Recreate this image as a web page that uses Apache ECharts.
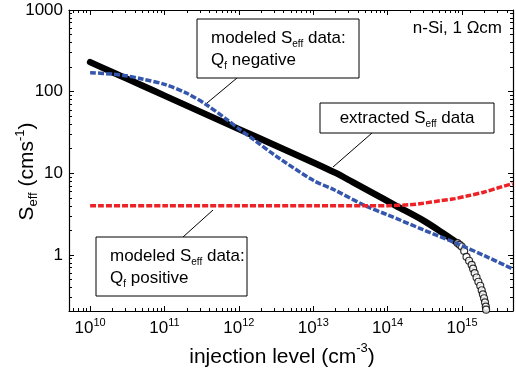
<!DOCTYPE html>
<html>
<head>
<meta charset="utf-8">
<script src="https://cdn.jsdelivr.net/npm/echarts@6/dist/echarts.min.js"></script>
<style>
  html, body { margin: 0; padding: 0; background: #fff; }
  #chart { width: 516px; height: 373px; }
</style>
</head>
<body>
<div id="chart"></div>
<script>
// Effective surface recombination velocity S_eff versus injection level, n-Si 1 Ohm cm.

// Extracted S_eff data (dense part drawn as a thick line)
const extractedN = [1e10, 2e10, 5e10, 1e11, 3e11, 1e12, 3e12, 1e13, 2e13, 3.4e13, 6e13, 1.3e14, 3e14, 5.5e14, 8.7e14];
const extractedS = [230, 173, 119, 89.5, 57, 34.8, 22.2, 13.6, 10.1, 7.8, 5.9, 4.0, 2.65, 1.86, 1.40];

// Extracted S_eff data, sparse tail drawn as open circles
const extractedTailN = [8.7e14, 9.3e14, 9.9e14, 1.07e15, 1.15e15, 1.245e15, 1.35e15, 1.41e15, 1.48e15, 1.57e15, 1.66e15, 1.76e15, 1.84e15, 1.91e15, 1.98e15, 2.04e15, 2.09e15, 2.11e15];
const extractedTailS = [1.40, 1.33, 1.27, 1.12, 0.95, 0.85, 0.755, 0.68, 0.60, 0.53, 0.47, 0.42, 0.37, 0.33, 0.295, 0.263, 0.233, 0.214];

// Modeled S_eff, negative fixed charge
const negativeN = [1e10, 2e10, 3e10, 5e10, 1e11, 2e11, 3.7e11, 7e11, 1e12, 1.6e12, 3e12, 1e13, 1.9e13, 5e13, 1e14, 3e14, 8.3e14, 2e15, 4.8e15];
const negativeS = [171, 164, 157, 143, 123, 95.5, 68.7, 45, 35, 25.7, 16.8, 8.2, 6.3, 4.0, 3.1, 2.04, 1.40, 0.98, 0.675];

// Modeled S_eff, positive fixed charge
const positiveN = [1e10, 1e11, 1e12, 1e13, 5e13, 1e14, 2e14, 3e14, 5e14, 8e14, 1.2e15, 2e15, 3e15, 4.8e15];
const positiveS = [4.0, 4.0, 4.0, 4.0, 4.0, 4.02, 4.12, 4.3, 4.6, 4.9, 5.3, 5.9, 6.6, 7.5];

// Axis ranges and tick labels
const xRange = [5.2e9, 4.85e15];
const yRange = [0.206, 1000];
const xTickExponents = [10, 11, 12, 13, 14, 15];
const yTickValues = [1, 10, 100, 1000];

const FONT = '"Liberation Sans", Arial, Helvetica, sans-serif';
const lg = Math.log10;
const toPairs = (xs, ys) => xs.map((x, i) => [lg(x), lg(ys[i])]);

const xMin = lg(xRange[0]), xMax = lg(xRange[1]);
const yMin = lg(yRange[0]), yMax = lg(yRange[1]);
const xMajor = xTickExponents.slice();
const yMajor = yTickValues.map(lg);

// Positions of the 2..9 minor ticks of each decade inside [lo, hi]
function minorTicks(lo, hi) {
  const out = [];
  for (let e = Math.floor(lo); e <= Math.ceil(hi); e++) {
    for (let k = 2; k <= 9; k++) {
      const v = e + lg(k);
      if (v >= lo && v <= hi) out.push(v);
    }
  }
  return out;
}
const xMinor = minorTicks(xMin, xMax);
const yMinor = minorTicks(yMin, yMax);

const black = '#000';
const tickLine = { color: black, width: 1 };

function axis(position, lo, hi, ticks, len, lineShown, label) {
  return {
    type: 'value',
    position: position,
    min: lo,
    max: hi,
    axisLine: { show: lineShown, onZero: false, lineStyle: { color: black, width: 1.2 } },
    axisTick: { show: true, inside: true, length: len, customValues: ticks, lineStyle: tickLine },
    axisLabel: label || { show: false },
    splitLine: { show: false },
    minorTick: { show: false },
    axisPointer: { show: false }
  };
}

const xLabel = {
  show: true,
  customValues: xMajor,
  margin: 6,
  formatter: v => '{b|10}{s|' + Math.round(v) + '}',
  rich: {
    b: { fontSize: 17, fontFamily: FONT, color: black, lineHeight: 20, verticalAlign: 'bottom' },
    s: { fontSize: 11, fontFamily: FONT, color: black, lineHeight: 8, verticalAlign: 'top' }
  }
};
const yLabel = {
  show: true,
  customValues: yMajor,
  margin: 6,
  fontSize: 17,
  fontFamily: FONT,
  color: black,
  formatter: v => String(Math.round(Math.pow(10, v)))
};

const xMain = axis('bottom', xMin, xMax, xMajor, 5, true, xLabel);
xMain.name = '{m|injection level (cm}{s|-3}{m|)}';
xMain.nameLocation = 'middle';
xMain.nameGap = 31;
xMain.nameMoveOverlap = false;
xMain.nameTextStyle = {
  padding: [0, 18, 0, 0],
  rich: {
    m: { fontSize: 21, fontFamily: FONT, color: black, lineHeight: 26, verticalAlign: 'bottom' },
    s: { fontSize: 13, fontFamily: FONT, color: black, lineHeight: 12, verticalAlign: 'top' }
  }
};

const yMain = axis('left', yMin, yMax, yMajor, 5, true, yLabel);
yMain.name = '{m|S}{d|eff}{m| (cms}{s|-1}{m|)}';
yMain.nameLocation = 'middle';
yMain.nameGap = 29;
yMain.nameMoveOverlap = false;
yMain.nameTextStyle = {
  padding: [0, 22, 0, 0],
  rich: {
    m: { fontSize: 21, fontFamily: FONT, color: black, lineHeight: 26, verticalAlign: 'middle' },
    d: { fontSize: 13, fontFamily: FONT, color: black, lineHeight: 8, verticalAlign: 'bottom' },
    s: { fontSize: 13, fontFamily: FONT, color: black, lineHeight: 12, verticalAlign: 'top' }
  }
};

const boxRich = {
  m: { fontSize: 17, fontFamily: FONT, color: black, lineHeight: 22, verticalAlign: 'middle' },
  d: { fontSize: 10, fontFamily: FONT, color: black, lineHeight: 8, verticalAlign: 'bottom' }
};

function box(x, y, w, h) {
  return { type: 'rect', z: 100, shape: { x: x, y: y, width: w, height: h },
           style: { fill: '#fff', stroke: black, lineWidth: 1 } };
}
function note(x, y, text, align) {
  return { type: 'text', z: 101, x: x, y: y,
           style: { text: text, rich: boxRich, align: align || 'left', verticalAlign: 'middle', fill: black } };
}
function leader(x1, y1, x2, y2) {
  return { type: 'line', z: 99, shape: { x1: x1, y1: y1, x2: x2, y2: y2 },
           style: { stroke: black, lineWidth: 1 } };
}

const option = {
  animation: false,
  backgroundColor: '#fff',
  grid: { left: 69, right: 3, top: 10, bottom: 62, containLabel: false, outerBoundsMode: 'none' },
  xAxis: [
    xMain,
    axis('bottom', xMin, xMax, xMinor, 3, false),
    axis('top', xMin, xMax, xMajor, 5, true),
    axis('top', xMin, xMax, xMinor, 3, false)
  ],
  yAxis: [
    yMain,
    axis('left', yMin, yMax, yMinor, 3, false),
    axis('right', yMin, yMax, yMajor, 5, true),
    axis('right', yMin, yMax, yMinor, 3, false)
  ],
  series: [
    {
      name: 'extracted S_eff data',
      type: 'line',
      data: toPairs(extractedN, extractedS),
      symbol: 'none',
      smooth: 0.3,
      lineStyle: { color: black, width: 6.5, cap: 'round', join: 'round' },
      z: 3
    },
    {
      name: 'extracted S_eff data (tail)',
      type: 'scatter',
      data: toPairs(extractedTailN, extractedTailS),
      symbol: 'circle',
      symbolSize: 7,
      itemStyle: { color: '#fff', borderColor: black, borderWidth: 1.2 },
      z: 3
    },
    {
      name: 'modeled S_eff data: Q_f negative',
      type: 'line',
      data: toPairs(negativeN, negativeS),
      symbol: 'none',
      smooth: 0.3,
      lineStyle: { color: '#3556ad', width: 3.5, type: [6, 2] },
      z: 4
    },
    {
      name: 'modeled S_eff data: Q_f positive',
      type: 'line',
      data: toPairs(positiveN, positiveS),
      symbol: 'none',
      smooth: 0.3,
      lineStyle: { color: '#ec2227', width: 3.5, type: [6, 2] },
      z: 5
    }
  ],
  graphic: [
    box(197, 19, 162, 59),
    note(211, 49, '{m|modeled S}{d|eff}{m| data:}\n{m|Q}{d|f}{m| negative}'),
    leader(237, 78, 207, 103),
    box(320, 103, 174, 30),
    note(407, 118, '{m|extracted S}{d|eff}{m| data}', 'center'),
    leader(372, 133, 333, 167),
    box(96, 237, 151, 59),
    note(110, 267, '{m|modeled S}{d|eff}{m| data:}\n{m|Q}{d|f}{m| positive}'),
    leader(183, 237, 213, 210),
    { type: 'text', z: 101, x: 502, y: 28,
      style: { text: 'n-Si, 1 \u03A9cm', font: '17px ' + FONT, fill: black, align: 'right', verticalAlign: 'middle' } }
  ]
};

const chart = echarts.init(document.getElementById('chart'), null, { renderer: 'canvas' });
chart.setOption(option);
</script>
</body>
</html>
